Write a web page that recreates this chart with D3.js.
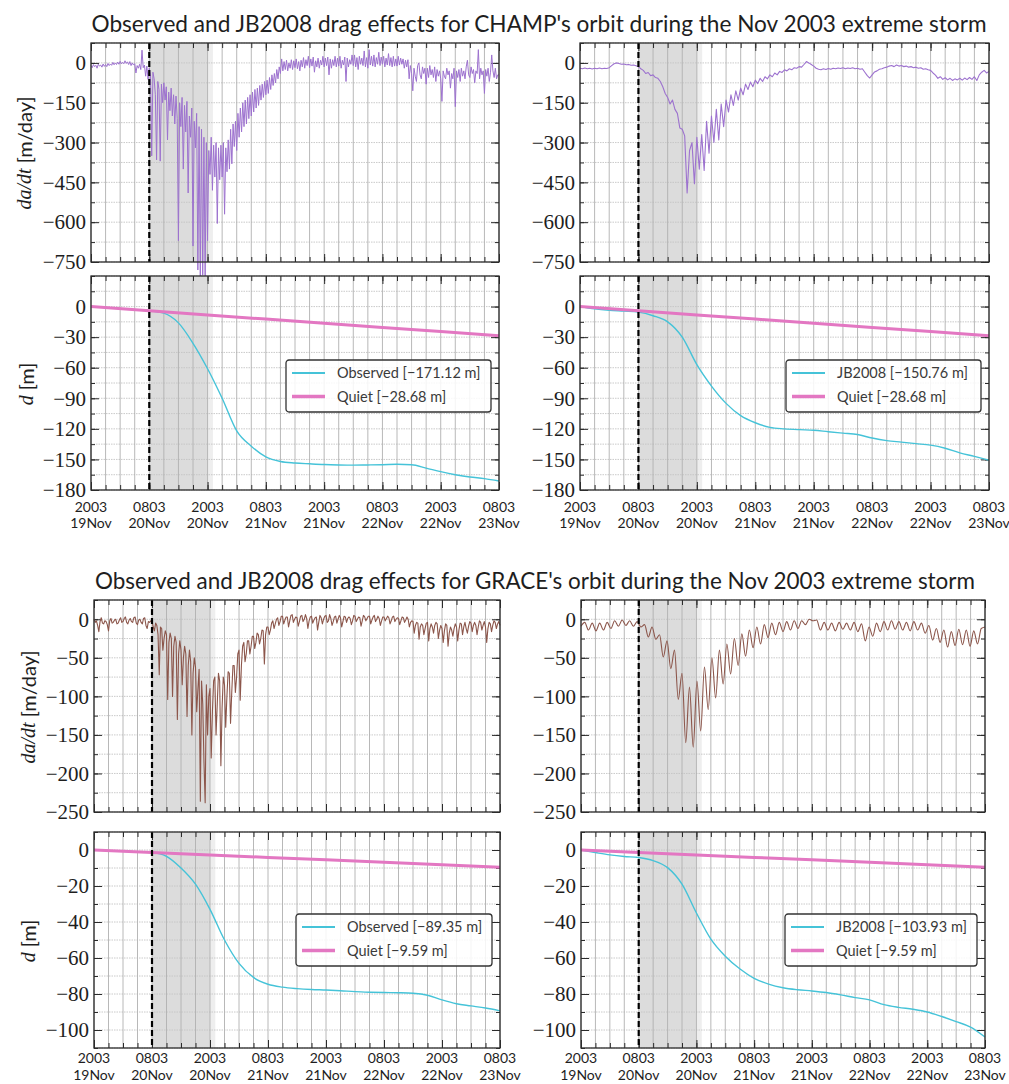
<!DOCTYPE html>
<html>
<head>
<meta charset="utf-8">
<script src="https://cdn.jsdelivr.net/npm/d3@7"></script>
<style>
  html, body { margin: 0; padding: 0; background: #ffffff; }
  svg { display: block; }
</style>
</head>
<body>
<svg id="fig" width="1009" height="1084"></svg>
<script>
// ---------------------------------------------------------------------------
// Time axis: 84 hours starting 20:03 UT on 19 Nov 2003
// ---------------------------------------------------------------------------
const startTime = new Date(Date.UTC(2003, 10, 19, 20, 3));
const spanHours = 84;
const majorTickHours = [0, 12, 24, 36, 48, 60, 72, 84];
const tickTimeLabels = ["2003", "0803", "2003", "0803", "2003", "0803", "2003", "0803"];
const tickDayLabels  = ["19Nov", "20Nov", "20Nov", "21Nov", "21Nov", "22Nov", "22Nov", "23Nov"];
const minorTickStepHours = 3;
const stormOnsetHours = 12;      // dashed marker
const mainPhaseHours = [12, 24]; // shaded interval
const mainPhaseTailHours = [24, 25.1];

// ---------------------------------------------------------------------------
// Observed orbit decay rate da/dt [m/day], one value every 15 min
// ---------------------------------------------------------------------------
const observedStepHours = 0.25;
const champObservedRate = [
  -10, -18, -6, -14, -9, -20, -5, -12, -8, -16, -4, -13,
  -6, -14, -2, -10, -4, -9, 2, -7, 0, -6, 3, -5,
  6, -4, 2, -3, 8, -2, 4, -6, 5, -10, 0, -8,
  -3, -38, -10, -20, -5, -25, 48, -18, -8, -50, -12, -62,
  -20, -45, -350, -35, -60, -120, -365, -70, -100, -370, -80, -150,
  -75, -140, -90, -290, -110, -180, -95, -200, -120, -230, -125, -210,
  -670, -150, -240, -130, -400, -160, -260, -145, -490, -200, -280, -170,
  -690, -220, -320, -190, -780, -240, -810, -250, -800, -280, -815, -300,
  -670, -330, -420, -280, -480, -310, -430, -300, -605, -320, -440, -310,
  -430, -300, -570, -320, -410, -290, -400, -250, -380, -230, -315, -220,
  -330, -190, -280, -170, -260, -150, -240, -140, -230, -130, -210, -120,
  -200, -110, -185, -100, -170, -95, -160, -85, -140, -80, -130, -70,
  -120, -65, -115, -55, -100, -45, -85, -40, -75, -25, -60, -15,
  -40, 15, -30, 5, -25, 10, -30, 0, -20, 12, -25, 8,
  -18, 15, -22, 5, -30, 10, -15, 20, -20, 12, -10, 25,
  -18, 15, -12, 22, -35, 8, -15, 18, -20, 10, -8, 25,
  -15, 18, -10, 22, -45, 15, -20, 12, -10, 25, -15, 18,
  -12, 25, -20, 10, -8, 22, -70, 18, -15, 12, -5, 30,
  -10, 30, -15, 20, -25, 25, -5, 18, -10, 45, -15, 20,
  -20, 50, -8, 25, -12, 30, -15, 20, -5, 40, -10, 22,
  -5, 25, -15, 18, -8, 35, -10, 20, -15, 25, -12, 15,
  -12, 25, -8, 18, -5, 15, -20, 10, -15, 12, -60, -10,
  -40, -105, -20, -50, -70, -10, 0, -45, -60, -15, -40, -20,
  -80, -20, -55, -10, -45, -25, -55, -15, -70, -25, -50, -30,
  -60, -145, -30, -50, -60, -20, -45, -30, -95, -40, -60, -20,
  -165, -30, -55, -25, -70, -20, -50, -30, -60, -15, 10, -45,
  -55, -15, -40, -25, -75, -30, -40, 50, -60, -20, -45, -30,
  -115, -25, -50, -20, -70, -35, 30, -30, -55, -20, -60, -45,
  -45
];
const graceObservedRate = [
  0, -4, -2, -8, -16, -3, 2, -5, -6, -2, -3, -7,
  -15, -2, 1, -5, -4, -1, 0, -6, -5, -1, 2, -4,
  -3, 1, 3, -4, -6, -1, 1, -3, -4, 2, 3, -5,
  -7, -1, 0, -4, -6, 1, 2, -8, -12, -3, -4, -2,
  -2, -10, -15, -5, -8, -20, -72, -10, -12, -40, -25, -15,
  -20, -104, -30, -18, -25, -100, -35, -22, -30, -130, -45, -28,
  -40, -85, -50, -35, -45, -126, -60, -40, -55, -150, -70, -50,
  -62, -120, -90, -65, -236, -80, -110, -185, -238, -85, -150, -100,
  -90, -180, -120, -80, -75, -150, -110, -70, -80, -190, -115, -75,
  -85, -140, -100, -68, -70, -135, -95, -60, -60, -95, -75, -45,
  -40, -105, -60, -35, -30, -55, -45, -28, -28, -45, -35, -22,
  -22, -38, -30, -18, -20, -32, -25, -14, -15, -58, -20, -10,
  -10, -20, -14, -5, -2, -12, -6, 0, 2, -8, -3, 4,
  4, -6, -1, 3, 3, -10, -2, 5, 6, -4, 0, 3,
  2, -9, -3, 4, 5, -3, 0, 6, 1, -12, -2, 3,
  4, -5, -1, 2, 3, -14, -4, 5, 2, -6, 0, 4,
  5, -4, -2, 6, 1, -8, -3, 3, 4, -5, 0, 5,
  2, -10, -3, 4, 3, -4, 1, 3, 1, -7, -2, 5,
  4, -3, 0, 3, 2, -9, -2, 5, 3, -2, 1, 4,
  4, -6, -1, 3, 5, -3, 0, 4, 1, -8, -2, 3,
  3, -2, 1, 4, 2, -6, -2, 3, 4, -3, 0, 2,
  1, -7, -2, 3, 2, -4, -1, 3, 0, -10, -4, -2,
  -3, -18, -8, -4, -5, -26, -10, -6, -8, -20, -12, -5,
  -4, -28, -12, -6, -10, -18, -8, -4, -6, -25, -14, -8,
  -12, -30, -15, -6, -8, -35, -18, -10, -14, -22, -12, -6,
  -10, -28, -14, -5, -6, -20, -10, -4, -12, -18, -9, -3,
  -5, -16, -8, -4, -8, -20, -10, -2, -4, -14, -8, -3,
  -10, -30, -12, -4, -6, -16, -8, -2, -4, -12, -6, -3,
  -8
];

// ---------------------------------------------------------------------------
// JB2008 orbit decay rate da/dt [m/day]
// ---------------------------------------------------------------------------
const champModelStepHours = 0.5;
const champModelRate = [
  -20, -22, -19, -22, -20, -23, -20, -22, -19, -22, -20, -21, -18, -10, -3, 0, -2, -5, -4, -7,
  -6, -9, -8, -11, -14, -22, -28, -40, -36, -48, -45, -55, -58, -70, -90, -115, -130, -155, -140, -175,
  -190, -245, -250, -275, -490, -330, -300, -455, -280, -400, -270, -405, -220, -340, -200, -300, -175, -290, -155, -240,
  -140, -185, -120, -160, -105, -140, -95, -120, -80, -100, -72, -90, -65, -78, -58, -70, -52, -60, -45, -52,
  -38, -45, -32, -36, -26, -30, -22, -26, -18, -20, -14, -16, -6, 5, 0, -6, -12, -20, -24, -26,
  -22, -25, -21, -24, -20, -22, -19, -21, -18, -22, -19, -21, -18, -22, -20, -24, -22, -35, -48, -57,
  -45, -34, -30, -24, -22, -18, -16, -12, -10, -14, -8, -12, -10, -14, -12, -16, -14, -18, -16, -20,
  -18, -24, -22, -26, -28, -38, -46, -58, -52, -62, -56, -64, -58, -66, -60, -64, -58, -65, -57, -63,
  -55, -62, -52, -66, -45, -35, -28, -38, -32
];
const graceModelStepHours = 84 / 108;
const graceModelRate = [
  -9, -4, -14, -5, -15, -5, -14, -4, -12, -2, -9, -1, -8, -2, -9, -3, -10, -7, -23, -10,
  -26, -20, -49, -28, -64, -40, -104, -70, -160, -88, -166, -80, -145, -62, -117, -50, -102, -40, -84, -32,
  -71, -25, -60, -19, -48, -14, -37, -10, -32, -7, -24, -5, -20, -4, -16, -3, -14, -2, -12, -2,
  -7, 0, -2, -1, -14, -4, -14, -5, -15, -4, -13, -5, -14, -4, -16, -6, -28, -10, -22, -5,
  -16, -3, -14, -2, -13, -3, -14, -4, -15, -3, -14, -5, -18, -8, -27, -12, -30, -14, -36, -16,
  -34, -13, -33, -14, -35, -15, -32, -12, -10
];

// ---------------------------------------------------------------------------
// Accumulated orbit decay d [m]
// ---------------------------------------------------------------------------
const decayStepHours = 3;
const champObservedDecay = [
  0, -1.0, -2.0, -3.0, -4.0, -6.5, -16, -36, -61, -90, -122, -137, -147.5, -152, -153.5,
  -154.3, -155, -155.4, -155.6, -155.4, -155.2, -154.8, -155.2, -158.5, -162, -165, -167.3, -168.8, -171.12
];
const champModelDecay = [
  0, -2.2, -3.6, -4.5, -5.5, -9, -15, -30, -57, -78, -95, -107, -114, -118.5, -120,
  -120.8, -121.3, -122.8, -124.2, -125.6, -129, -131.5, -133, -134.5, -136, -139, -143.5, -147, -150.76
];
const graceObservedDecay = [
  0, -0.35, -0.7, -1.05, -1.4, -3.5, -10, -19, -33, -50, -63, -70.8, -74.6, -76.2, -77,
  -77.5, -77.8, -78.2, -78.7, -79, -79.2, -79.3, -79.6, -80.7, -83.3, -85.4, -86.6, -87.8, -89.35
];
const graceModelDecay = [
  0, -1.4, -2.7, -3.6, -4.2, -5.9, -9.8, -19, -35, -49.5, -59, -66, -71.3, -74.5, -76.5,
  -77.6, -78.3, -79.2, -80.5, -82, -83.3, -85.9, -87.4, -88.5, -90, -92.5, -95.3, -98.4, -103.93
];
const quietStepHours = 12;
const champQuietDecay = [0, -4.10, -8.19, -12.29, -16.39, -20.49, -24.58, -28.68];
const graceQuietDecay = [0, -1.37, -2.74, -4.11, -5.48, -6.85, -8.22, -9.59];

// ---------------------------------------------------------------------------
// Styling
// ---------------------------------------------------------------------------
const COLORS = {
  champRate: "#9d72cf",
  graceRate: "#8c564b",
  decay: "#45c3d8",
  quiet: "#e377c2",
  frame: "#2b2b2b",
  text: "#1e1e1e",
  legendText: "#3a3a3a",
  vgrid: "#b0b0b0",
  hgrid: "#c4c4c4",
  span: "#dcdcdc",
  spanTail: "#eeeeee"
};
const SANS = "Lato, 'Open Sans', 'DejaVu Sans', sans-serif";
const SERIF = "'Liberation Serif', 'DejaVu Serif', serif";

const svg = d3.select("#fig");
const hoursToDate = h => new Date(startTime.getTime() + h * 3600e3);
const toSeries = (values, step) => values.map((v, i) => ({ t: hoursToDate(i * step), v }));
const fmtMeters = d3.format(".2f");

function drawPanel(o) {
  const x = d3.scaleTime().domain([hoursToDate(0), hoursToDate(spanHours)]).range([o.left, o.right]);
  const y = d3.scaleLinear().domain(o.yDomain).range([o.bottom, o.top]);
  const g = svg.append("g");

  // storm main-phase shading
  g.append("rect")
    .attr("x", x(hoursToDate(mainPhaseHours[0])))
    .attr("width", x(hoursToDate(mainPhaseHours[1])) - x(hoursToDate(mainPhaseHours[0])))
    .attr("y", o.top).attr("height", o.bottom - o.top)
    .attr("fill", COLORS.span);
  g.append("rect")
    .attr("x", x(hoursToDate(mainPhaseTailHours[0])))
    .attr("width", x(hoursToDate(mainPhaseTailHours[1])) - x(hoursToDate(mainPhaseTailHours[0])))
    .attr("y", o.top).attr("height", o.bottom - o.top)
    .attr("fill", COLORS.spanTail);

  // grid
  const minorHours = d3.range(0, spanHours + 0.001, minorTickStepHours);
  const yMinorVals = d3.range(o.yDomain[0], o.yDomain[1] + 1e-6, o.yMinorStep);
  g.append("g").selectAll("line").data(yMinorVals).join("line")
    .attr("x1", o.left).attr("x2", o.right)
    .attr("y1", d => y(d)).attr("y2", d => y(d))
    .attr("stroke", COLORS.hgrid).attr("stroke-width", 0.9)
    .attr("stroke-dasharray", "1.5,1");
  g.append("g").selectAll("line").data(minorHours).join("line")
    .attr("x1", d => x(hoursToDate(d))).attr("x2", d => x(hoursToDate(d)))
    .attr("y1", o.top).attr("y2", o.bottom)
    .attr("stroke", COLORS.vgrid).attr("stroke-width", 0.9);

  // axes with inward ticks on all four sides
  const majorDates = majorTickHours.map(hoursToDate);
  const minorDates = minorHours.map(hoursToDate);
  const axes = [
    { gen: d3.axisLeft(y).tickValues(o.yMajor).tickSizeInner(-8).tickPadding(5), tr: `translate(${o.left},0)`, labels: true },
    { gen: d3.axisLeft(y).tickValues(yMinorVals).tickSizeInner(-4).tickFormat(""), tr: `translate(${o.left},0)` },
    { gen: d3.axisRight(y).tickValues(o.yMajor).tickSizeInner(-8).tickFormat(""), tr: `translate(${o.right},0)` },
    { gen: d3.axisRight(y).tickValues(yMinorVals).tickSizeInner(-4).tickFormat(""), tr: `translate(${o.right},0)` },
    { gen: d3.axisBottom(x).tickValues(majorDates).tickSizeInner(-8).tickFormat(""), tr: `translate(0,${o.bottom})` },
    { gen: d3.axisBottom(x).tickValues(minorDates).tickSizeInner(-5).tickFormat(""), tr: `translate(0,${o.bottom})` },
    { gen: d3.axisTop(x).tickValues(majorDates).tickSizeInner(-8).tickFormat(""), tr: `translate(0,${o.top})` },
    { gen: d3.axisTop(x).tickValues(minorDates).tickSizeInner(-5).tickFormat(""), tr: `translate(0,${o.top})` }
  ];
  axes.forEach(a => {
    const ag = g.append("g").attr("transform", a.tr).call(a.gen.tickSizeOuter(0));
    ag.select(".domain").remove();
    ag.selectAll(".tick line").attr("stroke", COLORS.frame).attr("stroke-width", 1);
    if (a.labels) {
      ag.selectAll(".tick text")
        .attr("font-family", SERIF).attr("font-size", 21).attr("fill", COLORS.text);
    }
  });

  // two-line time labels
  if (o.xLabels) {
    const lab = g.append("g").attr("font-family", SANS).attr("font-size", o.xLabels.size)
      .attr("fill", COLORS.text).attr("text-anchor", "middle");
    majorTickHours.forEach((h, i) => {
      const t = lab.append("text").attr("x", x(hoursToDate(h))).attr("y", o.bottom + o.xLabels.first);
      t.append("tspan").attr("x", x(hoursToDate(h))).text(tickTimeLabels[i]);
      t.append("tspan").attr("x", x(hoursToDate(h))).attr("dy", o.xLabels.gap).text(tickDayLabels[i]);
    });
  }

  // data lines
  o.lines.forEach(s => {
    const line = d3.line().x(d => x(d.t)).y(d => y(d.v)).curve(s.curve || d3.curveLinear);
    g.append("path").datum(s.data)
      .attr("d", line).attr("fill", "none")
      .attr("stroke", s.color).attr("stroke-width", s.width)
      .attr("stroke-linejoin", "round");
  });

  // storm onset marker
  g.append("line")
    .attr("x1", x(hoursToDate(stormOnsetHours))).attr("x2", x(hoursToDate(stormOnsetHours)))
    .attr("y1", o.top).attr("y2", o.bottom)
    .attr("stroke", "#000").attr("stroke-width", 2.2).attr("stroke-dasharray", "6,3");

  // frame
  g.append("rect").attr("x", o.left).attr("y", o.top)
    .attr("width", o.right - o.left).attr("height", o.bottom - o.top)
    .attr("fill", "none").attr("stroke", COLORS.frame).attr("stroke-width", 1.3);

  // legend
  if (o.legend) {
    const L = o.legend;
    const lg = g.append("g").attr("transform", `translate(${L.x},${L.y})`);
    lg.append("rect").attr("width", L.w).attr("height", L.h).attr("rx", 3)
      .attr("fill", "#ffffff").attr("fill-opacity", 0.85)
      .attr("stroke", "#333").attr("stroke-width", 1.3);
    L.items.forEach((it, i) => {
      const cy = 13 + i * 23.5;
      lg.append("line").attr("x1", 6).attr("x2", 39).attr("y1", cy).attr("y2", cy)
        .attr("stroke", it.color).attr("stroke-width", it.width + 0.6);
      lg.append("text").attr("x", 51).attr("y", cy).attr("dy", "0.35em")
        .attr("font-family", SANS).attr("font-size", 14.5).attr("fill", COLORS.legendText)
        .text(`${it.name} [${fmtMeters(it.last)} m]`);
    });
  }

  // y label
  if (o.ylabel) {
    const t = svg.append("text")
      .attr("transform", `translate(${o.ylabel.x},${o.ylabel.y}) rotate(-90)`)
      .attr("text-anchor", "middle").attr("dominant-baseline", "central")
      .attr("fill", COLORS.text).attr("font-size", 20);
    t.append("tspan").attr("font-family", SERIF).attr("font-style", "italic").text(o.ylabel.math);
    t.append("tspan").attr("font-family", SANS).text(" " + o.ylabel.unit);
  }
}

function drawTitle(text, cx, baseline, width) {
  svg.append("text").attr("x", cx).attr("y", baseline)
    .attr("text-anchor", "middle").attr("font-family", SANS).attr("font-size", 23)
    .attr("fill", COLORS.text)
    .attr("textLength", width).attr("lengthAdjust", "spacingAndGlyphs")
    .text(text);
}

// ---------------------------------------------------------------------------
// Layout
// ---------------------------------------------------------------------------
drawTitle("Observed and JB2008 drag effects for CHAMP's orbit during the Nov 2003 extreme storm", 539, 32, 895);
drawTitle("Observed and JB2008 drag effects for GRACE's orbit during the Nov 2003 extreme storm", 535, 589, 880);

const champRateTicks = [0, -150, -300, -450, -600, -750];
const champDecayTicks = [0, -30, -60, -90, -120, -150, -180];
const graceRateTicks = [0, -50, -100, -150, -200, -250];
const graceDecayTicks = [0, -20, -40, -60, -80, -100];
const champTimeLabels = { first: 22, gap: 16, size: 14 };
const graceTimeLabels = { first: 15, gap: 16.5, size: 14 };

// CHAMP
drawPanel({
  left: 91, right: 499, top: 43, bottom: 262,
  yDomain: [-750, 75], yMajor: champRateTicks, yMinorStep: 75,
  lines: [{ data: toSeries(champObservedRate, observedStepHours), color: COLORS.champRate, width: 1.0 }],
  ylabel: { x: 24, y: 153, math: "da/dt", unit: "[m/day]" }
});
drawPanel({
  left: 580, right: 989, top: 43, bottom: 262,
  yDomain: [-750, 75], yMajor: champRateTicks, yMinorStep: 75,
  lines: [{ data: toSeries(champModelRate, champModelStepHours), color: COLORS.champRate, width: 1.1 }]
});
drawPanel({
  left: 91, right: 499, top: 276, bottom: 490,
  yDomain: [-180, 30], yMajor: champDecayTicks, yMinorStep: 15, xLabels: champTimeLabels,
  lines: [
    { data: toSeries(champObservedDecay, decayStepHours), color: COLORS.decay, width: 1.4, curve: d3.curveMonotoneX },
    { data: toSeries(champQuietDecay, quietStepHours), color: COLORS.quiet, width: 3 }
  ],
  legend: { x: 286, y: 360, w: 205, h: 52, items: [
    { name: "Observed", last: champObservedDecay[champObservedDecay.length - 1], color: COLORS.decay, width: 1.4 },
    { name: "Quiet", last: champQuietDecay[champQuietDecay.length - 1], color: COLORS.quiet, width: 3 }
  ] },
  ylabel: { x: 26, y: 384, math: "d", unit: "[m]" }
});
drawPanel({
  left: 580, right: 989, top: 276, bottom: 490,
  yDomain: [-180, 30], yMajor: champDecayTicks, yMinorStep: 15, xLabels: champTimeLabels,
  lines: [
    { data: toSeries(champModelDecay, decayStepHours), color: COLORS.decay, width: 1.4, curve: d3.curveMonotoneX },
    { data: toSeries(champQuietDecay, quietStepHours), color: COLORS.quiet, width: 3 }
  ],
  legend: { x: 786, y: 360, w: 195, h: 52, items: [
    { name: "JB2008", last: champModelDecay[champModelDecay.length - 1], color: COLORS.decay, width: 1.4 },
    { name: "Quiet", last: champQuietDecay[champQuietDecay.length - 1], color: COLORS.quiet, width: 3 }
  ] }
});

// GRACE
drawPanel({
  left: 94, right: 500, top: 600, bottom: 812,
  yDomain: [-250, 25], yMajor: graceRateTicks, yMinorStep: 25,
  lines: [{ data: toSeries(graceObservedRate, observedStepHours), color: COLORS.graceRate, width: 1.1 }],
  ylabel: { x: 28, y: 707, math: "da/dt", unit: "[m/day]" }
});
drawPanel({
  left: 581, right: 985, top: 600, bottom: 812,
  yDomain: [-250, 25], yMajor: graceRateTicks, yMinorStep: 25,
  lines: [{ data: toSeries(graceModelRate, graceModelStepHours), color: COLORS.graceRate, width: 1.1, curve: d3.curveMonotoneX }]
});
drawPanel({
  left: 94, right: 500, top: 832, bottom: 1048,
  yDomain: [-110, 10], yMajor: graceDecayTicks, yMinorStep: 10, xLabels: graceTimeLabels,
  lines: [
    { data: toSeries(graceObservedDecay, decayStepHours), color: COLORS.decay, width: 1.4, curve: d3.curveMonotoneX },
    { data: toSeries(graceQuietDecay, quietStepHours), color: COLORS.quiet, width: 3 }
  ],
  legend: { x: 296, y: 914, w: 196, h: 52, items: [
    { name: "Observed", last: graceObservedDecay[graceObservedDecay.length - 1], color: COLORS.decay, width: 1.4 },
    { name: "Quiet", last: graceQuietDecay[graceQuietDecay.length - 1], color: COLORS.quiet, width: 3 }
  ] },
  ylabel: { x: 28, y: 941, math: "d", unit: "[m]" }
});
drawPanel({
  left: 581, right: 985, top: 832, bottom: 1048,
  yDomain: [-110, 10], yMajor: graceDecayTicks, yMinorStep: 10, xLabels: graceTimeLabels,
  lines: [
    { data: toSeries(graceModelDecay, decayStepHours), color: COLORS.decay, width: 1.4, curve: d3.curveMonotoneX },
    { data: toSeries(graceQuietDecay, quietStepHours), color: COLORS.quiet, width: 3 }
  ],
  legend: { x: 785, y: 914, w: 192, h: 52, items: [
    { name: "JB2008", last: graceModelDecay[graceModelDecay.length - 1], color: COLORS.decay, width: 1.4 },
    { name: "Quiet", last: graceQuietDecay[graceQuietDecay.length - 1], color: COLORS.quiet, width: 3 }
  ] }
});
</script>
</body>
</html>
